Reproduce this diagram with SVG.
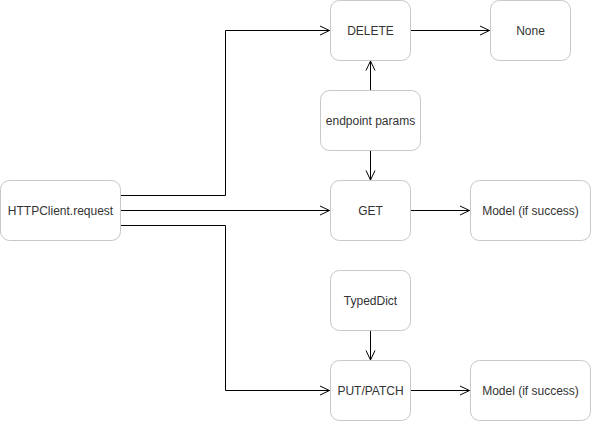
<svg xmlns="http://www.w3.org/2000/svg" width="591" height="421" viewBox="0 0 591 421">
<defs>
<marker id="arr" markerWidth="12" markerHeight="12" refX="10" refY="6" orient="auto" markerUnits="userSpaceOnUse">
<path d="M0.5,1.5 L10,6 L0.5,10.5" fill="none" stroke="#000" stroke-width="1"/>
</marker>
</defs>
<style>
.n rect{fill:#fff;stroke:#c8c8c8;stroke-width:1}
.n text{font-family:"Liberation Sans",Arial,sans-serif;font-size:12px;fill:#333;text-anchor:middle;dominant-baseline:central}
.c path{fill:none;stroke:#000;stroke-width:1;marker-end:url(#arr)}
</style>
<rect width="591" height="421" fill="#fff"/>
<g class="c" id="connectors">
<path d="M120.5,195.5 H225.5 V30.5 H329.5"/>
<path d="M120.5,210.5 H329.5"/>
<path d="M120.5,225.5 H225.5 V390.5 H329.5"/>
<path d="M410.5,30.5 H489.5"/>
<path d="M370.5,90.5 V61"/>
<path d="M370.5,150.5 V180"/>
<path d="M410.5,210.5 H469.5"/>
<path d="M370.5,330.5 V360"/>
<path d="M410.5,390.5 H469.5"/>
</g>
<g class="n" id="httpclient"><rect x="0.5" y="180.5" width="120" height="60" rx="9"/><text x="60.5" y="210.5">HTTPClient.request</text></g>
<g class="n" id="delete"><rect x="330.5" y="0.5" width="80" height="60" rx="9"/><text x="370.5" y="30.5">DELETE</text></g>
<g class="n" id="none"><rect x="490.5" y="0.5" width="80" height="60" rx="9"/><text x="530.5" y="30.5">None</text></g>
<g class="n" id="endpoint"><rect x="320.5" y="90.5" width="100" height="60" rx="9"/><text x="370.5" y="120.5">endpoint params</text></g>
<g class="n" id="get"><rect x="330.5" y="180.5" width="80" height="60" rx="9"/><text x="370.5" y="210.5">GET</text></g>
<g class="n" id="model1"><rect x="470.5" y="180.5" width="120" height="60" rx="9"/><text x="530.5" y="210.5">Model (if success)</text></g>
<g class="n" id="typeddict"><rect x="330.5" y="270.5" width="80" height="60" rx="9"/><text x="370.5" y="300.5">TypedDict</text></g>
<g class="n" id="putpatch"><rect x="330.5" y="360.5" width="80" height="60" rx="9"/><text x="370.5" y="390.5">PUT/PATCH</text></g>
<g class="n" id="model2"><rect x="470.5" y="360.5" width="120" height="60" rx="9"/><text x="530.5" y="390.5">Model (if success)</text></g>
</svg>
